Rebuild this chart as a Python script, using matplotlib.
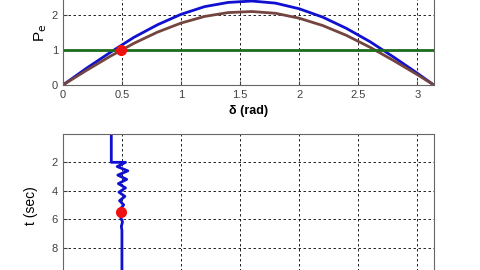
import matplotlib
matplotlib.use("Agg")
import matplotlib.pyplot as plt

plt.rcParams['font.family'] = ['Liberation Sans', 'DejaVu Sans']

# power-angle curves
delta = [0, 0.2, 0.4, 0.6, 0.8, 1.0, 1.2, 1.4, 1.6, 1.8, 2.0, 2.2, 2.4, 2.6, 2.8, 3.0, 3.1416]
pe_pre = [0, 0.48, 0.93, 1.36, 1.72, 2.02, 2.24, 2.36, 2.40, 2.34, 2.18, 1.94, 1.62, 1.24, 0.80, 0.34, 0]
pe_post = [0, 0.42, 0.82, 1.19, 1.51, 1.77, 1.96, 2.07, 2.10, 2.05, 1.91, 1.70, 1.42, 1.08, 0.70, 0.30, 0]
pm = 1.0
op_delta, op_pe = 0.49, 1.0

# rotor angle vs time
t_sim = [0, 2.0, 2.0, 2.3, 2.6, 2.9, 3.2, 3.5, 3.8, 4.1, 4.4, 4.7, 5.0, 5.3, 5.6, 5.9, 6.2, 6.5, 6.8, 20]
d_sim = [0.41, 0.41, 0.53, 0.46, 0.55, 0.465, 0.54, 0.47, 0.53, 0.475, 0.525, 0.48, 0.515,
         0.485, 0.51, 0.49, 0.505, 0.495, 0.50, 0.50]
dot_t, dot_d = 5.5, 0.49

blue = '#1010d0'
brown = '#74443f'
green = '#1d6b1d'
red = '#ee1111'

fig = plt.figure(figsize=(4.8, 2.7), dpi=100)
fig.patch.set_facecolor('white')

ax1 = fig.add_axes([0.131, 0.685, 0.773, 0.389])
ax1.plot(delta, pe_pre, color=blue, lw=2.0)
ax1.plot(delta, pe_post, color=brown, lw=2.0)
ax1.plot([0, 3.1416], [pm, pm], color=green, lw=2.0)
ax1.plot(op_delta, op_pe, 'o', color=red, ms=7)
ax1.set_xlim(0, 3.1416)
ax1.set_ylim(0, 3)
ax1.set_xticks([0, 0.5, 1, 1.5, 2, 2.5, 3])
ax1.set_xticklabels(['0', '0.5', '1', '1.5', '2', '2.5', '3'])
ax1.set_yticks([0, 1, 2])
ax1.set_xlabel('δ (rad)', fontsize=9, fontweight='bold', labelpad=4)
ax1.set_ylabel(r'P$_\mathrm{e}$', fontsize=11, labelpad=2)

ax2 = fig.add_axes([0.131, -0.548, 0.773, 1.052])
ax2.plot(d_sim, t_sim, color=blue, lw=2.0)
ax2.plot(dot_d, dot_t, 'o', color=red, ms=7)
ax2.set_xlim(0, 3.1416)
ax2.set_ylim(20, 0)
ax2.set_xticks([0, 0.5, 1, 1.5, 2, 2.5, 3])
ax2.set_xticklabels([])
ax2.set_yticks([2, 4, 6, 8, 10])
ax2.set_ylabel('t (sec)', fontsize=10)
ax2.yaxis.set_label_coords(-0.067, 0.746)

for ax in (ax1, ax2):
    ax.grid(True, color='black', linestyle=(0, (3, 3)), lw=0.6)
    ax.tick_params(labelsize=8, colors='#404040', length=3, direction='in')
    for s in ax.spines.values():
        s.set_color('#666666')

fig.savefig('out.png', dpi=100)
